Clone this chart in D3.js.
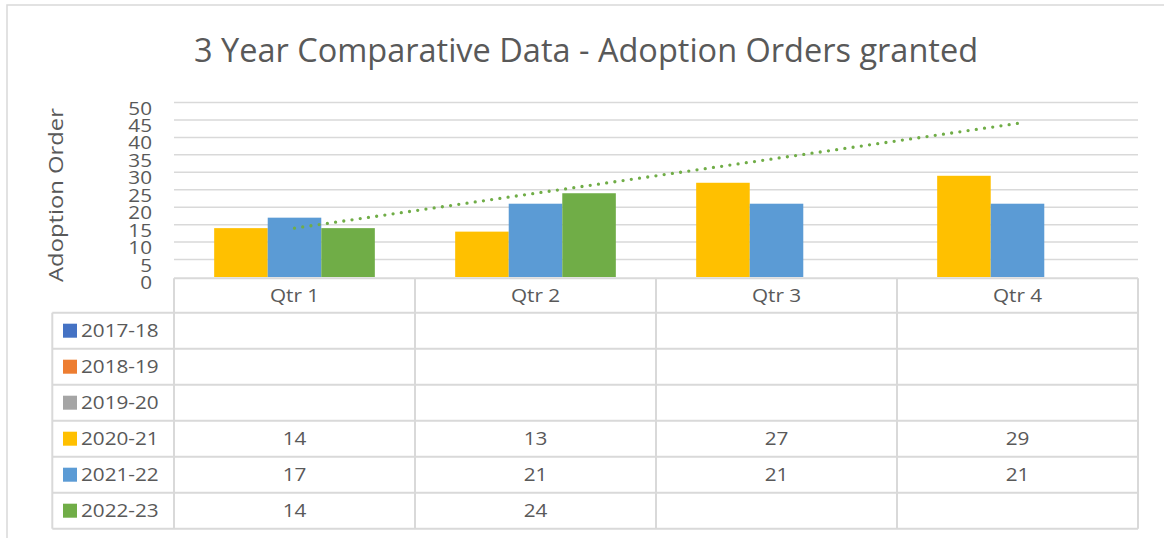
<!DOCTYPE html>
<html>
<head>
<meta charset="utf-8">
<script src="https://cdn.jsdelivr.net/npm/d3@7"></script>
<style>
  body { margin: 0; background: #fff; }
  text { font-family: "Open Sans", sans-serif; fill: #595959; }
</style>
</head>
<body>
<div id="chart"></div>
<script>
const width = 1164;
const height = 538;

const quarters = ["Qtr 1", "Qtr 2", "Qtr 3", "Qtr 4"];
const seriesNames = ["2017-18", "2018-19", "2019-20", "2020-21", "2021-22", "2022-23"];
const seriesColors = ["#4472C4", "#ED7D31", "#A5A5A5", "#FFC000", "#5B9BD5", "#70AD47"];
const values2017 = [null, null, null, null];
const values2018 = [null, null, null, null];
const values2019 = [null, null, null, null];
const values2020 = [14, 13, 27, 29];
const values2021 = [17, 21, 21, 21];
const values2022 = [14, 24, null, null];
const yTicks = [0, 5, 10, 15, 20, 25, 30, 35, 40, 45, 50];
const plotted = ["2020-21", "2021-22", "2022-23"]; // series drawn as bars

const allValues = [values2017, values2018, values2019, values2020, values2021, values2022];

const margin = {left: 174, right: 26, top: 102.5, plotBottom: 277};
const tableTop = 278.3, headerBottom = 312.7, tableBottom = 528.7, tableLeft = 52.3;
const textScale = 1.12; // glyphs in the picture are a bit wide

const svg = d3.select("#chart").append("svg")
  .attr("width", width)
  .attr("height", height);

// chart frame (cropped at right / bottom)
svg.append("rect")
  .attr("x", 7).attr("y", 5)
  .attr("width", 1200).attr("height", 600)
  .attr("fill", "none")
  .attr("stroke", "#D9D9D9")
  .attr("stroke-width", 1.5);

var x0 = d3.scaleBand()
  .domain(quarters)
  .range([margin.left, width - margin.right]);

var x1 = d3.scaleBand()
  .domain(plotted)
  .range([0, x0.bandwidth()])
  .paddingOuter(0.75);

var y = d3.scaleLinear()
  .domain([0, 50])
  .range([margin.plotBottom, margin.top]);

// gridlines
svg.append("g")
  .selectAll("line")
  .data(yTicks.filter(d => d > 0))
  .enter().append("line")
    .attr("x1", margin.left)
    .attr("x2", width - margin.right)
    .attr("y1", d => y(d))
    .attr("y2", d => y(d))
    .attr("stroke", "#D9D9D9")
    .attr("stroke-width", 1.5);

// y tick labels
svg.append("g")
  .selectAll("text")
  .data(yTicks)
  .enter().append("text")
    .attr("text-anchor", "end")
    .attr("transform", d => "translate(152," + (y(d) + 12) + ") scale(" + textScale + ",1)")
    .attr("font-size", "18.5px")
    .text(d => d);

// y axis title
svg.append("text")
  .attr("text-anchor", "middle")
  .attr("transform", "translate(63,195) rotate(-90) scale(1.19,1)")
  .attr("font-size", "20px")
  .text("Adoption Order");

// title
svg.append("text")
  .attr("text-anchor", "middle")
  .attr("transform", "translate(586,62) scale(0.985,1)")
  .attr("font-size", "33px")
  .text("3 Year Comparative Data - Adoption Orders granted");

// bars
plotted.forEach(function(name) {
  var idx = seriesNames.indexOf(name);
  var vals = allValues[idx];
  svg.append("g")
    .selectAll("rect")
    .data(quarters.map((q, i) => ({q: q, v: vals[i]})).filter(d => d.v != null))
    .enter().append("rect")
      .attr("x", d => x0(d.q) + x1(name))
      .attr("width", x1.bandwidth())
      .attr("y", d => y(d.v))
      .attr("height", d => y(0) - y(d.v))
      .style("fill", seriesColors[idx]);
});

// linear trendline for 2022-23, forecast forward to Qtr 4
var pts = values2022.map((v, i) => [i, v]).filter(d => d[1] != null);
var mx = d3.mean(pts, d => d[0]), my = d3.mean(pts, d => d[1]);
var slope = d3.sum(pts, d => (d[0] - mx) * (d[1] - my)) / d3.sum(pts, d => (d[0] - mx) * (d[0] - mx));
var intercept = my - slope * mx;
var cx = i => x0(quarters[i]) + x0.bandwidth() / 2;
svg.append("line")
  .attr("x1", cx(0)).attr("y1", y(intercept))
  .attr("x2", cx(3)).attr("y2", y(intercept + slope * 3))
  .attr("stroke", "#70AD47")
  .attr("stroke-width", 3.3)
  .attr("stroke-linecap", "round")
  .attr("stroke-dasharray", "0 8.3");

// data table
var rowY = d3.scaleBand()
  .domain(seriesNames)
  .range([headerBottom, tableBottom]);

var grid = svg.append("g")
  .attr("stroke", "#D9D9D9")
  .attr("stroke-width", 2);

// horizontal lines
grid.append("line")
  .attr("x1", margin.left).attr("x2", width - margin.right)
  .attr("y1", tableTop).attr("y2", tableTop);
grid.selectAll(".hrow")
  .data(seriesNames)
  .enter().append("line")
    .attr("x1", tableLeft).attr("x2", width - margin.right)
    .attr("y1", d => rowY(d)).attr("y2", d => rowY(d));
grid.append("line")
  .attr("x1", tableLeft).attr("x2", width - margin.right)
  .attr("y1", tableBottom).attr("y2", tableBottom);

// vertical lines
grid.append("line")
  .attr("x1", tableLeft).attr("x2", tableLeft)
  .attr("y1", headerBottom).attr("y2", tableBottom);
grid.selectAll(".vcol")
  .data(quarters)
  .enter().append("line")
    .attr("x1", d => x0(d)).attr("x2", d => x0(d))
    .attr("y1", tableTop).attr("y2", tableBottom);
grid.append("line")
  .attr("x1", width - margin.right).attr("x2", width - margin.right)
  .attr("y1", tableTop).attr("y2", tableBottom);

// header labels
svg.append("g")
  .selectAll("text")
  .data(quarters)
  .enter().append("text")
    .attr("text-anchor", "middle")
    .attr("font-size", "18.5px")
    .attr("transform", d => "translate(" + (x0(d) + x0.bandwidth() / 2) + "," + ((tableTop + headerBottom) / 2 + 6.5) + ") scale(" + textScale + ",1)")
    .text(d => d);

// legend keys + row labels
seriesNames.forEach(function(name, i) {
  var cy = rowY(name) + rowY.bandwidth() / 2;
  svg.append("rect")
    .attr("x", 63).attr("y", cy - 7)
    .attr("width", 14).attr("height", 14)
    .style("fill", seriesColors[i]);
  svg.append("text")
    .attr("transform", "translate(81," + (cy + 6.5) + ") scale(" + textScale + ",1)")
    .attr("font-size", "18.5px")
    .text(name);
  svg.append("g")
    .selectAll("text")
    .data(quarters.map((q, j) => ({q: q, v: allValues[i][j]})).filter(d => d.v != null))
    .enter().append("text")
      .attr("text-anchor", "middle")
      .attr("font-size", "18.5px")
      .attr("transform", d => "translate(" + (x0(d.q) + x0.bandwidth() / 2) + "," + (cy + 6.5) + ") scale(" + textScale + ",1)")
      .text(d => d.v);
});
</script>
</body>
</html>
